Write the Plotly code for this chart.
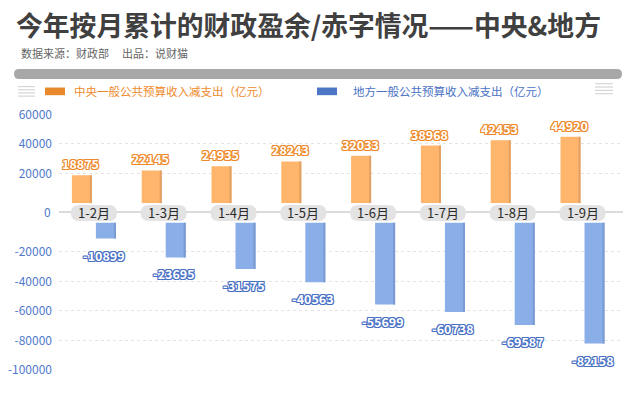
import plotly.graph_objects as go

# ---------------- data ----------------
categories = ["1-2月", "1-3月", "1-4月", "1-5月", "1-6月", "1-7月", "1-8月", "1-9月"]
central = [18875, 22145, 24935, 28243, 32033, 38968, 42453, 44920]
local = [-10899, -23695, -31575, -40563, -55699, -60738, -69587, -82158]
central_name = "中央一般公共预算收入减支出（亿元）"
local_name = "地方一般公共预算收入减支出（亿元）"
pos_ticks = [20000, 40000, 60000]
neg_ticks = [-100000, -80000, -60000, -40000, -20000]
title = "今年按月累计的财政盈余/赤字情况——中央&amp;地方"
source = "数据来源：财政部"
producer = "出品：说财猫"

# ---------------- style ----------------
W, H = 640, 396
FONT = "Noto Sans CJK SC"
ORANGE = "#FFB56B"
ORANGE_EDGE = "#E2A063"
BLUE = "#8AAEE8"
BLUE_EDGE = "#7A9AD2"
ORANGE_TXT = "#EE8A2C"
BLUE_TXT = "#4A72C4"
AXIS_TXT = "#5079CC"


def px(x):
    return x / W


def py(y):
    return 1 - y / H


def outline(c):
    return ", ".join(f"{dx}px {dy}px 0 {c}" for dx, dy in
                     [(1, 0), (-1, 0), (0, 1), (0, -1), (1, 1), (-1, -1), (1, -1), (-1, 1)])


def rrect(w, h, r):
    x0, x1, y0, y1 = -w / 2, w / 2, -h / 2, h / 2
    return (f"M{x0 + r},{y0} L{x1 - r},{y0} Q{x1},{y0} {x1},{y0 + r} "
            f"L{x1},{y1 - r} Q{x1},{y1} {x1 - r},{y1} L{x0 + r},{y1} "
            f"Q{x0},{y1} {x0},{y1 - r} L{x0},{y0 + r} Q{x0},{y0} {x0 + r},{y0} Z")


x_left, x_right = 59, 623
x_range = [-0.5, 7.58]
unit = (x_right - x_left) / (x_range[1] - x_range[0])  # px per category
bw = 20 / unit
edge = 2 / unit
o_off = -22 / unit
b_off = 2 / unit

fig = go.Figure()
fig.add_bar(x=categories, y=central, width=bw, offset=o_off, marker_color=ORANGE,
            marker_line_width=0, yaxis="y", name=central_name, showlegend=False, hoverinfo="y")
fig.add_bar(x=categories, y=central, width=edge, offset=o_off + bw - edge, marker_color=ORANGE_EDGE,
            marker_line_width=0, yaxis="y", showlegend=False, hoverinfo="skip")
fig.add_bar(x=categories, y=local, width=bw, offset=b_off, marker_color=BLUE,
            marker_line_width=0, yaxis="y2", name=local_name, showlegend=False, hoverinfo="y")
fig.add_bar(x=categories, y=local, width=edge, offset=b_off + bw - edge, marker_color=BLUE_EDGE,
            marker_line_width=0, yaxis="y2", showlegend=False, hoverinfo="skip")

annotations = []
shapes = []

# data labels
for c, v in zip(categories, central):
    annotations.append(dict(x=c, y=v, xref="x", yref="y", xshift=-13, yshift=0, yanchor="bottom",
                            xanchor="center",
                            text=f"<b>{v}</b>", showarrow=False,
                            font=dict(family=FONT, size=12.5, color="#FFFFFF", shadow=outline(ORANGE_TXT))))
for c, v in zip(categories, local):
    annotations.append(dict(x=c, y=v, xref="x", yref="y2", xshift=10, yshift=-5, yanchor="top",
                            xanchor="center",
                            text=f"<b>{v}</b>", showarrow=False,
                            font=dict(family=FONT, size=12.5, color="#FFFFFF", shadow=outline(BLUE_TXT))))

# zero line and "0" label across the gap
shapes.append(dict(type="line", xref="paper", yref="paper", x0=px(x_left), x1=px(x_right),
                   y0=py(211), y1=py(211), line=dict(color="#CFCFCF", width=1.5), layer="above"))
annotations.append(dict(x=px(53), y=py(211), xref="paper", yref="paper", xanchor="right", yanchor="middle",
                        text="0", showarrow=False, font=dict(family=FONT, size=12, color=AXIS_TXT)))

# category label pills
for c in categories:
    shapes.append(dict(type="path", xref="x", yref="paper", xsizemode="pixel", ysizemode="pixel",
                       xanchor=c, yanchor=py(212), path=rrect(46, 16, 8),
                       fillcolor="#E3E3E3", line=dict(width=0), layer="above"))
    annotations.append(dict(x=c, y=py(212), xref="x", yref="paper", text=c, showarrow=False,
                            xanchor="center", yanchor="middle",
                            font=dict(family=FONT, size=13, color="#2A2A2A")))

# title / subtitle
annotations.append(dict(x=px(14), y=py(15), xref="paper", yref="paper", xanchor="left", yanchor="middle",
                        text=f"<b>{title}</b>", showarrow=False,
                        font=dict(family=FONT, size=26.8, color="#404040")))
annotations.append(dict(x=px(19), y=py(45), xref="paper", yref="paper", xanchor="left", yanchor="middle",
                        text=source, showarrow=False, font=dict(family=FONT, size=11, color="#666666")))
annotations.append(dict(x=px(120), y=py(45), xref="paper", yref="paper", xanchor="left", yanchor="middle",
                        text=producer, showarrow=False, font=dict(family=FONT, size=11, color="#666666")))

# gray divider bar
shapes.append(dict(type="path", xref="paper", yref="paper", xsizemode="pixel", ysizemode="pixel",
                   xanchor=px((14 + 622) / 2), yanchor=py(67), path=rrect(608, 10, 5),
                   fillcolor="#A8A8A8", line=dict(width=0)))

# legend
shapes.append(dict(type="rect", xref="paper", yref="paper", x0=px(45), x1=px(65), y0=py(89), y1=py(81),
                   fillcolor="#E8892C", line=dict(width=0)))
annotations.append(dict(x=px(72), y=py(85), xref="paper", yref="paper", xanchor="left", yanchor="middle",
                        text=central_name, showarrow=False,
                        font=dict(family=FONT, size=11.5, color=ORANGE_TXT)))
shapes.append(dict(type="rect", xref="paper", yref="paper", x0=px(317), x1=px(337), y0=py(89), y1=py(81),
                   fillcolor="#4D76C6", line=dict(width=0)))
annotations.append(dict(x=px(351), y=py(85), xref="paper", yref="paper", xanchor="left", yanchor="middle",
                        text=local_name, showarrow=False,
                        font=dict(family=FONT, size=11.5, color=BLUE_TXT)))

# menu icons
for (xa, xb, ys) in [(18, 35, [80, 83.3, 86.6, 90]), (595, 613, [77, 80.5, 84, 87.5])]:
    for yy in ys:
        shapes.append(dict(type="line", xref="paper", yref="paper", x0=px(xa), x1=px(xb),
                           y0=py(yy), y1=py(yy), line=dict(color="#D6D6D6", width=1.2)))

tickfont = dict(family=FONT, size=12, color=AXIS_TXT)
fig.update_layout(
    width=W, height=H,
    margin=dict(l=0, r=0, t=0, b=0),
    paper_bgcolor="white", plot_bgcolor="white",
    barmode="overlay",
    showlegend=False,
    xaxis=dict(domain=[px(x_left), px(x_right)], type="category", range=x_range,
               showticklabels=False, showgrid=False, zeroline=False, showline=False,
               ticks="", anchor="y2", fixedrange=True),
    yaxis=dict(domain=[py(202), py(109)], range=[0, 60000], tickvals=pos_ticks,
               ticktext=[str(v) for v in pos_ticks], tickfont=tickfont,
               showgrid=True, gridcolor="#E4E4E4", griddash="dot", gridwidth=1,
               zeroline=False, showline=False, ticks="", ticklabelstandoff=6,
               anchor="x", fixedrange=True),
    yaxis2=dict(domain=[py(376), py(222)], range=[-100000, 0], tickvals=neg_ticks,
                ticktext=[str(v) for v in neg_ticks], tickfont=tickfont,
                showgrid=True, gridcolor="#E4E4E4", griddash="dot", gridwidth=1,
                zeroline=False, showline=False, ticks="", ticklabelstandoff=6,
                anchor="x", fixedrange=True),
    shapes=shapes,
    annotations=annotations,
)

fig.write_html("out.html", config={"displayModeBar": False},
               post_script="document.body.style.margin='0';document.body.style.overflow='hidden';")
